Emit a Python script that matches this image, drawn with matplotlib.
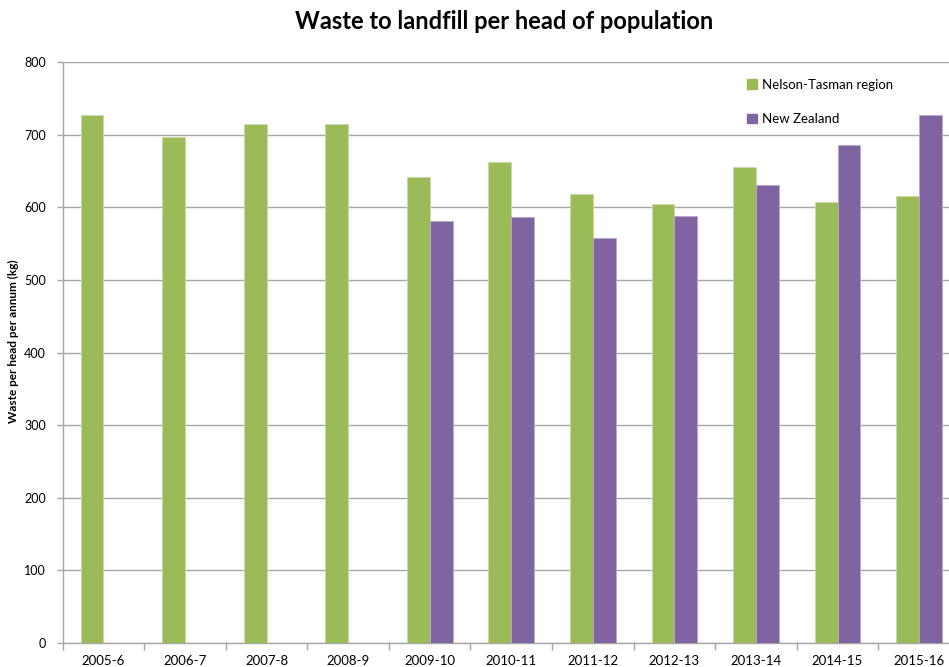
import numpy as np
import matplotlib
matplotlib.use('Agg')
import matplotlib.pyplot as plt
from matplotlib.patches import Patch

plt.rcParams['font.family'] = ['Lato', 'DejaVu Sans']

# landfill waste per head, kg per year
years = ['2005-6', '2006-7', '2007-8', '2008-9', '2009-10', '2010-11',
         '2011-12', '2012-13', '2013-14', '2014-15', '2015-16']
nelson_tasman = [727, 697, 714, 714, 642, 662, 618, 605, 655, 607, 615]
new_zealand = [np.nan, np.nan, np.nan, np.nan, 581, 587, 557, 588, 630, 686, 727]

green = '#9BBB59'
purple = '#8064A2'

fig = plt.figure(figsize=(9.49, 6.67), dpi=100)
ax = fig.add_axes([0.066, 0.036, 0.9455, 0.871])

x = np.arange(len(years))
w = 0.28
ax.bar(x - w / 2, nelson_tasman, width=w, color=green, edgecolor='#C9DAA8', linewidth=0.6, zorder=3)
ax.bar(x + w / 2, new_zealand, width=w, color=purple, edgecolor='#B8A9CC', linewidth=0.6, zorder=3)

ax.set_xlim(-0.5, len(years) - 0.5)
ax.set_ylim(0, 800)
ax.set_yticks(np.arange(0, 801, 100))
ax.yaxis.grid(True, color='#A6A6A6', linewidth=1.0, zorder=0)
ax.set_axisbelow(True)

# category labels in the middle, tick marks on the boundaries
ax.set_xticks(x)
ax.set_xticklabels(years, fontsize=9.5)
ax.set_xticks(np.arange(-0.5, len(years), 1), minor=True)
ax.tick_params(axis='x', which='major', length=0, pad=9)
ax.tick_params(axis='x', which='minor', length=5, color='#A6A6A6', width=1)
ax.tick_params(axis='y', length=4, color='#A6A6A6', width=1, labelsize=9, pad=8)

for s in ['top', 'right']:
    ax.spines[s].set_visible(False)
for s in ['left', 'bottom']:
    ax.spines[s].set_color('#A6A6A6')
    ax.spines[s].set_linewidth(1)

ax.set_ylabel('Waste per head per annum (kg)', fontsize=8.5, fontweight='bold')
ax.yaxis.set_label_coords(-0.049, 0.52)
fig.text(0.531, 0.968, 'Waste to landfill per head of population', ha='center', va='center',
         fontsize=17, fontweight='bold')

handles = [Patch(color=green, label='Nelson-Tasman region'),
           Patch(color=purple, label='New Zealand')]
ax.legend(handles=handles, loc='upper left', bbox_to_anchor=(0.775, 0.9),
          bbox_transform=fig.transFigure, frameon=False, fontsize=9.5,
          handlelength=0.7, handleheight=0.7, handletextpad=0.4, labelspacing=1.7)

fig.savefig('out.png', dpi=100)
